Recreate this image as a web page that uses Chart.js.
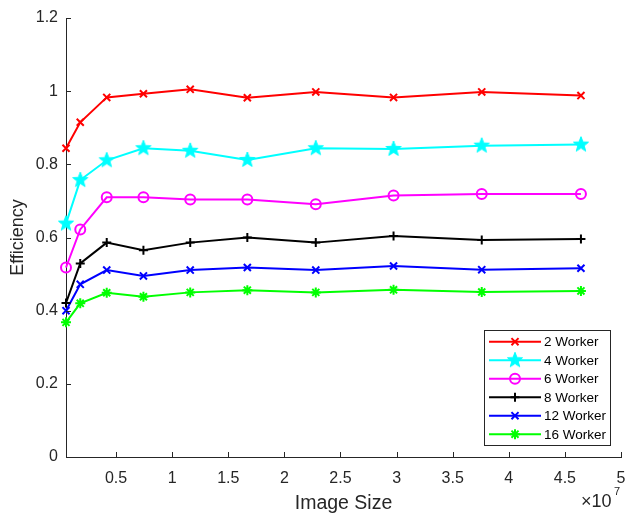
<!DOCTYPE html>
<html>
<head>
<meta charset="utf-8">
<script src="https://cdn.jsdelivr.net/npm/chart.js@4.4.0/dist/chart.umd.min.js"></script>
<style>
html,body{margin:0;padding:0;background:#fff;}
#wrap{width:627px;height:515px;position:relative;}
</style>
</head>
<body>
<div id="wrap"><canvas id="c" width="627" height="515"></canvas></div>
<script>
// ---- data ----
const imageSizes = [0.054e7, 0.181e7, 0.417e7, 0.744e7, 1.161e7, 1.670e7, 2.280e7, 2.973e7, 3.759e7, 4.643e7];
const worker2  = [0.844, 0.915, 0.983, 0.993, 1.005, 0.982, 0.998, 0.983, 0.998, 0.988];
const worker4  = [0.638, 0.757, 0.811, 0.844, 0.837, 0.812, 0.844, 0.842, 0.851, 0.854];
const worker6  = [0.518, 0.622, 0.710, 0.710, 0.704, 0.704, 0.691, 0.715, 0.719, 0.719];
const worker8  = [0.421, 0.529, 0.586, 0.565, 0.586, 0.600, 0.586, 0.604, 0.593, 0.596];
const worker12 = [0.400, 0.472, 0.511, 0.495, 0.511, 0.518, 0.511, 0.522, 0.512, 0.516];
const worker16 = [0.368, 0.420, 0.449, 0.438, 0.450, 0.456, 0.450, 0.457, 0.451, 0.454];
const seriesLabels = ['2 Worker', '4 Worker', '6 Worker', '8 Worker', '12 Worker', '16 Worker'];
const xTickValues = [0.5e7, 1e7, 1.5e7, 2e7, 2.5e7, 3e7, 3.5e7, 4e7, 4.5e7, 5e7];
const yTickValues = [0, 0.2, 0.4, 0.6, 0.8, 1.0, 1.2];

const FONT = "'Liberation Sans', Arial, Helvetica, sans-serif";
const AXC = '#262626';

function pentagram(color, r) {
  const c = document.createElement('canvas');
  const s = Math.ceil(2 * r + 2);
  c.width = s; c.height = s;
  const g = c.getContext('2d');
  const cx = s / 2, cy = s / 2, ri = r * 0.42;
  g.beginPath();
  for (let i = 0; i < 10; i++) {
    const a = -Math.PI / 2 + i * Math.PI / 5;
    const rr = i % 2 === 0 ? r : ri;
    const px = cx + rr * Math.cos(a), py = cy + rr * Math.sin(a);
    if (i === 0) g.moveTo(px, py); else g.lineTo(px, py);
  }
  g.closePath();
  g.fillStyle = color; g.strokeStyle = color; g.lineWidth = 1;
  g.fill(); g.stroke();
  return c;
}

const series = [worker2, worker4, worker6, worker8, worker12, worker16];
const colors = ['#ff0000', '#00ffff', '#ff00ff', '#000000', '#0000ff', '#00ff00'];
const styles = ['crossRot', pentagram('#00ffff', 8), 'circle', 'cross', 'crossRot', 'star'];
const radii = [5, 8, 5, 4.5, 5, 5];

const datasets = series.map((vals, i) => ({
  label: seriesLabels[i],
  data: vals.map((v, j) => ({ x: imageSizes[j], y: v })),
  borderColor: colors[i],
  backgroundColor: i === 2 ? 'rgba(0,0,0,0)' : colors[i],
  pointBorderColor: colors[i],
  pointBackgroundColor: i === 2 ? 'rgba(0,0,0,0)' : colors[i],
  borderWidth: 2,
  pointStyle: styles[i],
  pointRadius: radii[i],
  pointBorderWidth: 2,
  tension: 0,
  clip: false
}));

const tickPlugin = {
  id: 'matlabTicks',
  afterDraw(chart) {
    const ctx = chart.ctx;
    const xs = chart.scales.x, ys = chart.scales.y;
    const area = chart.chartArea;
    ctx.save();
    ctx.strokeStyle = AXC; ctx.lineWidth = 1;
    ctx.beginPath();
    xTickValues.forEach(v => {
      const px = Math.round(xs.getPixelForValue(v)) + 0.5;
      ctx.moveTo(px, area.bottom); ctx.lineTo(px, area.bottom - 5);
    });
    yTickValues.forEach(v => {
      const py = Math.round(ys.getPixelForValue(v)) + 0.5;
      ctx.moveTo(area.left, py); ctx.lineTo(area.left + 5, py);
    });
    ctx.stroke();
    // exponent label
    ctx.fillStyle = AXC;
    ctx.textBaseline = 'alphabetic';
    ctx.textAlign = 'left';
    ctx.font = '18px ' + FONT;
    ctx.fillText('\u00d710', 581, 507);
    ctx.font = '11px ' + FONT;
    ctx.fillText('7', 614, 495);
    // legend
    const bx = 484.5, by = 330.5, bw = 126, bh = 115;
    ctx.fillStyle = '#ffffff';
    ctx.fillRect(bx, by, bw, bh);
    ctx.strokeStyle = '#262626';
    ctx.lineWidth = 1;
    ctx.strokeRect(bx, by, bw, bh);
    chart.data.datasets.forEach((ds, i) => {
      const y = 341.7 + i * 18.5;
      ctx.strokeStyle = ds.borderColor;
      ctx.lineWidth = 2;
      ctx.beginPath(); ctx.moveTo(489, y); ctx.lineTo(541, y); ctx.stroke();
      ctx.fillStyle = ds.pointBackgroundColor;
      ctx.strokeStyle = ds.pointBorderColor;
      Chart.helpers.drawPoint(ctx, { pointStyle: ds.pointStyle, radius: ds.pointRadius, borderWidth: 2, rotation: 0 }, 515, y);
      ctx.fillStyle = '#000000';
      ctx.font = '13.5px ' + FONT;
      ctx.textBaseline = 'middle';
      ctx.fillText(ds.label, 544, y + 1);
    });
    ctx.restore();
  }
};

new Chart(document.getElementById('c'), {
  type: 'line',
  data: { datasets },
  plugins: [tickPlugin],
  options: {
    responsive: false,
    animation: false,
    devicePixelRatio: 1,
    layout: { autoPadding: false, padding: { top: 18, right: 6, left: 0, bottom: 0 } },
    plugins: { legend: { display: false }, tooltip: { enabled: false } },
    scales: {
      x: {
        type: 'linear',
        min: imageSizes[0],
        max: 5e7,
        afterBuildTicks: s => { s.ticks = xTickValues.map(v => ({ value: v })); },
        afterFit: s => { s.height = 58; s.paddingRight = 0; s.paddingLeft = 0; },
        grid: { display: false, drawTicks: false },
        border: { display: true, color: AXC, width: 1 },
        ticks: {
          color: AXC, font: { family: FONT, size: 16 }, padding: 12, maxRotation: 0,
          autoSkip: false,
          callback: v => String(Number((v / 1e7).toFixed(1)))
        },
        title: { display: true, text: 'Image Size', color: AXC, font: { family: FONT, size: 19.5 }, padding: { top: 0, bottom: 0 } }
      },
      y: {
        min: 0,
        max: 1.2,
        afterBuildTicks: s => { s.ticks = yTickValues.map(v => ({ value: v })); },
        afterFit: s => { s.width = 66; s.paddingTop = 0; s.paddingBottom = 0; },
        grid: { display: false, drawTicks: false },
        border: { display: true, color: AXC, width: 1 },
        ticks: {
          color: AXC, font: { family: FONT, size: 16 }, padding: 8,
          callback: v => String(Number(v.toFixed(1)))
        },
        title: { display: true, text: 'Efficiency', color: AXC, font: { family: FONT, size: 18 }, padding: { top: 7, bottom: 0 } }
      }
    }
  }
});
</script>
</body>
</html>
